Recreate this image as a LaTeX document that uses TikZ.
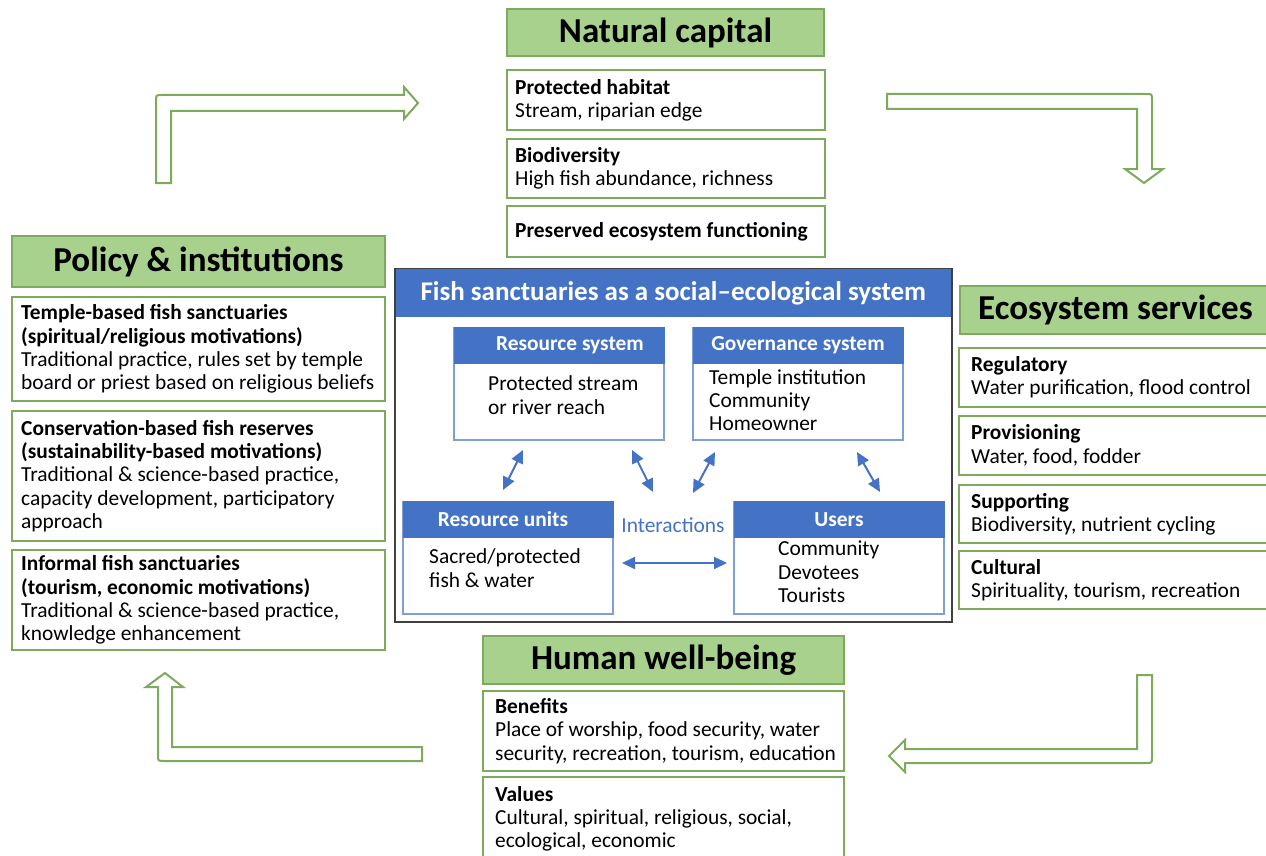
\documentclass[tikz,border=0pt]{standalone}
\usepackage{fontspec}
\setmainfont{Carlito}
\usetikzlibrary{arrows.meta, positioning}

\definecolor{headgreen}{HTML}{A9D18E}
\definecolor{boxgreen}{HTML}{7DAA5C}
\definecolor{sesblue}{HTML}{4472C4}
\definecolor{sesline}{HTML}{7E9FDA}
\definecolor{sesframe}{HTML}{404040}

\tikzset{
  headbox/.style={draw=boxgreen, fill=headgreen, line width=2pt, anchor=north west, inner sep=0pt,
    font=\fontsize{35}{40}\selectfont\bfseries},
  itembox/.style={draw=boxgreen, line width=2pt, anchor=north west, inner sep=0pt},
  boxtext/.style={anchor=west, xshift=#1, align=left, inner sep=0pt, font=\fontsize{21.4}{23.3}\selectfont},
  boxtext/.default=12pt,
  sysbox/.style={draw=sesline, line width=2pt, anchor=north west, inner sep=0pt,
    minimum width=210pt, minimum height=112pt},
  syshead/.style={draw=sesblue, fill=sesblue, line width=1pt, anchor=north, inner sep=0pt,
    minimum width=210pt, minimum height=36pt, text=white, font=\fontsize{21.4}{24}\selectfont\bfseries},
  systext/.style={anchor=west, align=left, inner sep=0pt, font=\fontsize{21.4}{23.3}\selectfont},
  linkarrow/.style={{Triangle[length=13pt,width=12pt]}-{Triangle[length=13pt,width=12pt]}, draw=sesblue, line width=2pt},
  flowarrow/.style={draw=boxgreen, line width=2pt, fill=white, line join=miter},
}

\begin{document}
\begin{tikzpicture}[x=1pt, y=-1pt]
\useasboundingbox (0,0) rectangle (1266,856);

% natural capital
\node[headbox, minimum width=317pt, minimum height=47pt] (nc) at (506,8) {Natural capital};
\node[itembox, minimum width=318pt, minimum height=60pt,
  label={[boxtext=9pt]west:\textbf{Protected habitat}\\Stream, riparian edge}] (nc1) at (506,69) {};
\node[itembox, minimum width=318pt, minimum height=59pt,
  label={[boxtext=9pt]west:\textbf{Biodiversity}\\High fish abundance, richness}] (nc2) at (506,138) {};
\node[itembox, minimum width=318pt, minimum height=51pt,
  label={[boxtext=9pt]west:\textbf{Preserved ecosystem functioning}}] (nc3) at (506,205) {};

% policy & institutions
\node[headbox, minimum width=373pt, minimum height=51pt] (pi) at (11,235) {Policy \& institutions};
\node[itembox, minimum width=373pt, minimum height=104pt,
  label={[boxtext=10pt]west:\textbf{Temple-based fish sanctuaries}\\\textbf{(spiritual/religious motivations)}\\Traditional practice, rules set by temple\\board or priest based on religious beliefs}] (pi1) at (11,296) {};
\node[itembox, minimum width=373pt, minimum height=130pt,
  label={[boxtext=10pt]west:\textbf{Conservation-based fish reserves}\\\textbf{(sustainability-based motivations)}\\Traditional \& science-based practice,\\capacity development, participatory\\approach}] (pi2) at (11,410) {};
\node[itembox, minimum width=373pt, minimum height=100pt,
  label={[boxtext=10pt]west:\textbf{Informal fish sanctuaries}\\\textbf{(tourism, economic motivations)}\\Traditional \& science-based practice,\\knowledge enhancement}] (pi3) at (11,549) {};

% ecosystem services
\node[headbox, minimum width=311pt, minimum height=48pt] (es) at (959,285) {Ecosystem services};
\node[itembox, minimum width=312pt, minimum height=59pt,
  label={[boxtext=13pt]west:\textbf{Regulatory}\\Water purification, flood control}] (es1) at (958,347) {};
\node[itembox, minimum width=312pt, minimum height=59pt,
  label={[boxtext=13pt]west:\textbf{Provisioning}\\Water, food, fodder}] (es2) at (958,415) {};
\node[itembox, minimum width=312pt, minimum height=58pt,
  label={[boxtext=13pt]west:\textbf{Supporting}\\Biodiversity, nutrient cycling}] (es3) at (958,484) {};
\node[itembox, minimum width=312pt, minimum height=58pt,
  label={[boxtext=13pt]west:\textbf{Cultural}\\Spirituality, tourism, recreation}] (es4) at (958,550) {};

% human well-being
\node[headbox, minimum width=361pt, minimum height=48pt] (hw) at (482,635) {Human well-being};
\node[itembox, minimum width=361pt, minimum height=80pt,
  label={[boxtext=13pt]west:\textbf{Benefits}\\Place of worship, food security, water\\security, recreation, tourism, education}] (hw1) at (482,690) {};
\node[itembox, minimum width=361pt, minimum height=84pt,
  label={[boxtext=13pt]west:\textbf{Values}\\Cultural, spiritual, religious, social,\\ecological, economic}] (hw2) at (482,776) {};

% social-ecological system
\node[draw=sesframe, line width=1.5pt, anchor=north west, inner sep=0pt,
  minimum width=557pt, minimum height=353pt] (ses) at (394,268) {};
\node[fill=sesblue, anchor=north, inner sep=0pt, minimum width=555pt, minimum height=48pt,
  text=white, font=\fontsize{27}{30}\selectfont\bfseries] (sestitle) at ([yshift=-1pt]ses.north)
  {Fish sanctuaries as a social–ecological system};

\node[sysbox] (rs) at (453,327) {};
\node[syshead] (rshead) at (rs.north) {\hspace*{22pt}Resource system};
\node[systext] (rstext) at ([shift={(35,68)}]rs.north west) {Protected stream\\or river reach};

\node[sysbox] (gs) at (692,327) {};
\node[syshead] (gshead) at (gs.north) {Governance system};
\node[systext] (gstext) at ([shift={(17,73)}]gs.north west) {Temple institution\\Community\\Homeowner};

\node[sysbox] (ru) at (402,501) {};
\node[syshead] (ruhead) at (ru.north) {Resource units\hspace*{10pt}};
\node[systext] (rutext) at ([shift={(27,67)}]ru.north west) {Sacred/protected\\fish \& water};

\node[sysbox] (us) at (733,501) {};
\node[syshead] (ushead) at (us.north) {Users};
\node[systext] (ustext) at ([shift={(45,71)}]us.north west) {Community\\Devotees\\Tourists};

\node[inner sep=0pt, text=sesblue, font=\fontsize{21.4}{24}\selectfont] (ia) at (673,525) {Interactions};

\draw[linkarrow] ([shift={(70,9)}]rs.south west) -- ([shift={(101,-11)}]ru.north west);
\draw[linkarrow] ([shift={(179,9)}]rs.south west) -- ([shift={(-20,-33)}]ia.center);
\draw[linkarrow] ([shift={(23,11)}]gs.south west) -- ([shift={(20,-32)}]ia.center);
\draw[linkarrow] ([shift={(165,11)}]gs.south west) -- ([shift={(147,-9)}]us.north west);
\draw[linkarrow] ([shift={(8,5)}]ru.east) -- ([shift={(-6,5)}]us.west);

% block arrows of the cycle
\draw[flowarrow] (156,183) -- (156,101) .. controls (156,95) .. (162,95) -- (404,95) -- (404,87)
  -- (418,103) -- (404,119) -- (404,111) -- (171,111) -- (171,183) -- cycle;
\draw[flowarrow] (887,94) -- (1146,94) .. controls (1152,94) .. (1152,100) -- (1152,169) -- (1163,169)
  -- (1144,183) -- (1125,169) -- (1137,169) -- (1137,109) -- (887,109) -- cycle;
\draw[flowarrow] (1137,675) -- (1152,675) -- (1152,757) .. controls (1152,763) .. (1146,763) -- (905,763)
  -- (905,772) -- (889,756) -- (905,740) -- (905,749) -- (1137,749) -- cycle;
\draw[flowarrow] (422,747) -- (422,761) -- (164,761) .. controls (158,761) .. (158,755) -- (158,687)
  -- (146,687) -- (165,673) -- (183,687) -- (172,687) -- (172,747) -- cycle;
\end{tikzpicture}
\end{document}
